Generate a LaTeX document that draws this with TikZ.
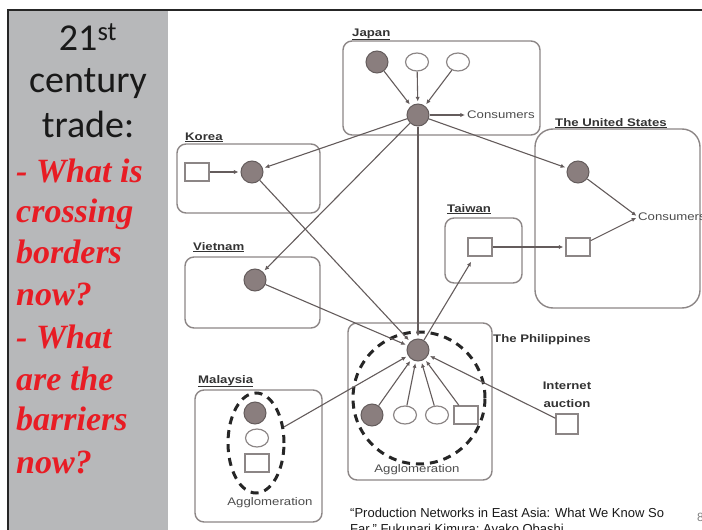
\documentclass[tikz,border=0pt]{standalone}
\usepackage{fontspec}
\setmainfont{Liberation Sans}
\newfontfamily\titlefont{Carlito}
\newfontfamily\askfont{Liberation Serif}
\newfontfamily\figfont[FakeStretch=1.2]{Liberation Sans}
\usetikzlibrary{arrows.meta,positioning,shapes.geometric}
\definecolor{panelgray}{RGB}{183,184,186}
\definecolor{askred}{RGB}{232,28,36}
\definecolor{linegray}{RGB}{100,92,92}
\definecolor{boxgray}{RGB}{140,134,134}
\definecolor{dotfill}{RGB}{138,126,126}
\tikzset{>={Latex[width=1.5mm,length=1.6mm]}}
\tikzset{country/.style={draw=boxgray, line width=1.4pt, rounded corners=9pt}}
\tikzset{firm/.style={shape=circle, draw=linegray, fill=dotfill, line width=1pt,
    minimum size=22pt, inner sep=0pt}}
\tikzset{supplier/.style={shape=ellipse, draw=boxgray, fill=white, line width=1.2pt,
    minimum width=23pt, minimum height=18pt, inner sep=0pt}}
\tikzset{plant/.style={shape=rectangle, draw=boxgray, fill=white, line width=1.2pt,
    minimum width=24pt, minimum height=18pt, inner sep=0pt}}
\tikzset{flow/.style={->, draw=linegray, line width=1.1pt, shorten >=2pt}}
\tikzset{cluster/.style={draw=black!85, line width=3pt, dash pattern=on 8pt off 6pt}}
\tikzset{country label/.style={font=\figfont\bfseries\fontsize{11}{11}\selectfont,
    text=black!80, anchor=base west, inner sep=0pt}}
\tikzset{plain label/.style={font=\figfont\fontsize{11}{11}\selectfont, text=black!70, inner sep=0pt}}
\tikzset{title line/.style={font=\titlefont\fontsize{38}{44}\selectfont, text=black!90,
    anchor=base, inner sep=0pt}}
\tikzset{ask line/.style={font=\askfont\bfseries\itshape\fontsize{34}{40}\selectfont, text=askred,
    anchor=base west, inner sep=0pt}}

\begin{document}
\begin{tikzpicture}[x=1pt, y=-1pt]
    \useasboundingbox (0,0) rectangle (702,530);
    \clip (0,0) rectangle (702,530);
    \fill[panelgray] (8,10) rectangle (168,530);
    \draw[black!85, line width=1.5pt] (8,530) -- (8,10) -- (702,10);

    \node(title1) [title line] at (88,50)  {21\textsuperscript{st}};
    \node(title2) [title line] at (88,92)  {century};
    \node(title3) [title line] at (88,137) {trade:};

    \node(ask1) [ask line] at (16,182) {- What is};
    \node(ask2) [ask line] at (16,222) {crossing};
    \node(ask3) [ask line] at (16,263) {borders};
    \node(ask4) [ask line] at (16,305) {now?};
    \node(ask5) [ask line] at (16,348) {- What};
    \node(ask6) [ask line] at (16,390) {are the};
    \node(ask7) [ask line] at (16,430) {barriers};
    \node(ask8) [ask line] at (16,473) {now?};

    \draw[country] (343,41) rectangle (540,135);
    \draw[country] (177,144) rectangle (320,213);
    \draw[country, rounded corners=18pt] (535,129) rectangle (700,308);
    \draw[country] (445,218) rectangle (522,283);
    \draw[country] (185,257) rectangle (320,328);
    \draw[country] (348,323) rectangle (492,480);
    \draw[country] (195,390) rectangle (322,522);

    \node(jplab) [country label] at (352,36)  {\underline{Japan}};
    \node(krlab) [country label] at (185,140) {\underline{Korea}};
    \node(uslab) [country label] at (555,126) {\underline{The United States}};
    \node(twlab) [country label] at (447,212) {\underline{Taiwan}};
    \node(vnlab) [country label] at (193,250) {\underline{Vietnam}};
    \node(phlab) [country label] at (493,342) {The Philippines};
    \node(mylab) [country label] at (198,383) {\underline{Malaysia}};

    \node(jpfirm) [firm] at (377,62) {};
    \node(jpsupa) [supplier] at (417,62) {};
    \node(jpsupb) [supplier] at (458,62) {};
    \node(jphub) [firm] at (418,115) {};
    \node(jpcons) [plain label, anchor=west] at (467,115) {Consumers};

    \node(krplant) [plant] at (197,172) {};
    \node(krfirm) [firm] at (252,172) {};

    \node(usfirm) [firm] at (578,172) {};
    \node(usplant) [plant] at (578,247) {};
    \node(uscons) [plain label, anchor=west] at (638,217) {Consumers};

    \node(twplant) [plant] at (480,247) {};

    \node(vnfirm) [firm] at (255,280) {};

    \node(phring) [cluster, circle, minimum size=132pt, inner sep=0pt] at (419,398) {};
    \node(phhub) [firm] at (418,350) {};
    \node(phfirm) [firm] at (372,415) {};
    \node(phsupa) [supplier] at (405,415) {};
    \node(phsupb) [supplier] at (437,415) {};
    \node(phplant) [plant] at (466,415) {};
    \node(phagg) [plain label] at (417,470) {Agglomeration};

    \node(netlab1) [country label, anchor=base] at (567,389) {Internet};
    \node(netlab2) [country label, anchor=base] at (567,407) {auction};
    \node(netplant) [plant, minimum width=22pt, minimum height=20pt] at (567,424) {};

    \node(myring) [cluster, ellipse, minimum width=56pt, minimum height=100pt, inner sep=0pt] at (256,443) {};
    \node(myfirm) [firm] at (255,413) {};
    \node(mysup) [supplier] at (257,438) {};
    \node(myplant) [plant] at (257,463) {};
    \node(myagg) [plain label] at (270,503) {Agglomeration};

    \draw [flow] (jpfirm) to (jphub);
    \draw [flow] (jpsupa) to (jphub);
    \draw [flow] (jpsupb) to (jphub);
    \draw [flow] (jphub) to (jpcons);
    \draw [flow] (krplant) to (krfirm);
    \draw [flow] (usfirm) to (uscons.west);
    \draw [flow] (usplant) to (uscons.west);

    \draw [flow] (jphub) to (krfirm);
    \draw [flow] (jphub) to (vnfirm);
    \draw [flow] (jphub) to (usfirm);
    \draw [flow] (jphub) to (phhub);
    \draw [flow] (krfirm) to (phhub);
    \draw [flow] (vnfirm) to (phhub);
    \draw [flow] (myring) to (phhub);
    \draw [flow, shorten >=6pt] (phhub) to (twplant);
    \draw [flow] (twplant) to (usplant);
    \draw [flow] (netplant) to (phhub);

    \draw [flow] (phfirm) to (phhub);
    \draw [flow] (phsupa) to (phhub);
    \draw [flow] (phsupb) to (phhub);
    \draw [flow] (phplant) to (phhub);

    \node(cite1) [font=\fontsize{13}{13}\selectfont, text=black!90, anchor=base west, inner sep=0pt]
        at (350,517) {“Production Networks in East Asia: What We Know So};
    \node(cite2) [font=\fontsize{13}{13}\selectfont, text=black!90, anchor=base west, inner sep=0pt]
        at (350,533) {Far,” Fukunari Kimura; Ayako Obashi};
    \node(pagenum) [font=\fontsize{12}{12}\selectfont, text=black!50, anchor=base west, inner sep=0pt]
        at (697,521) {8};
\end{tikzpicture}
\end{document}
